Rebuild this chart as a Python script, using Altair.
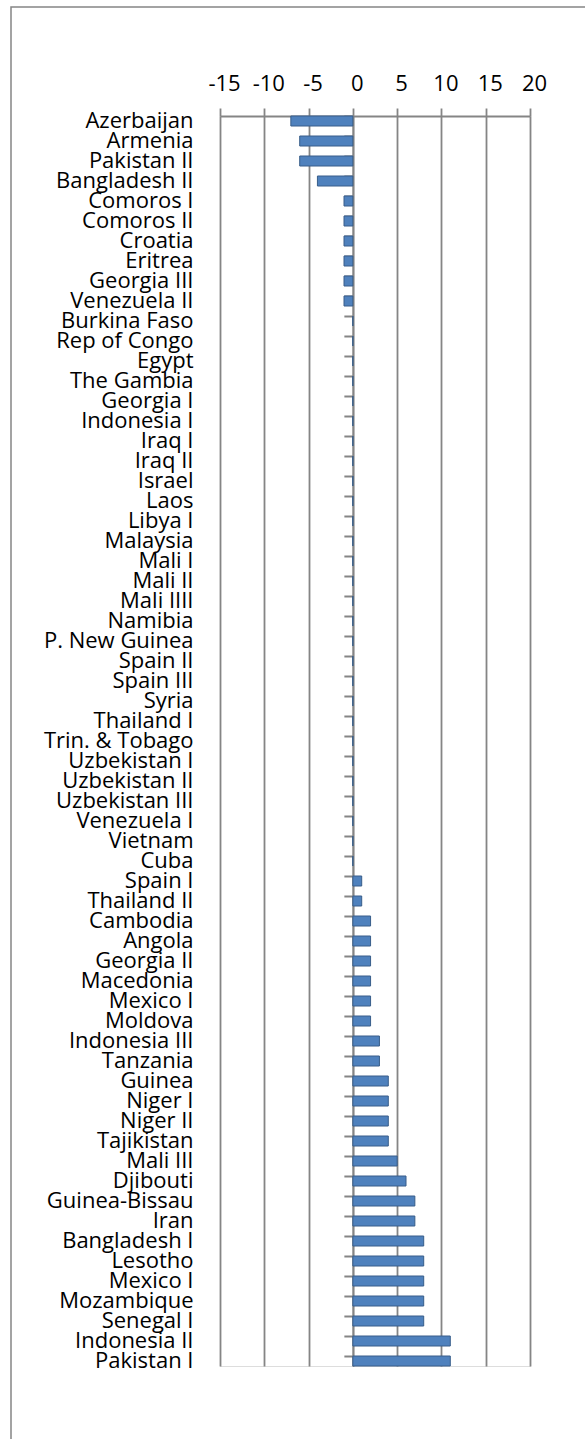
import altair as alt
import pandas as pd

NBSP = "\u00a0"
countries = [
    "Azerbaijan", "Armenia", "Pakistan II", "Bangladesh II", "Comoros I", "Comoros II",
    "Croatia", "Eritrea" + NBSP, "Georgia III", "Venezuela II", "Burkina Faso", "Rep of Congo",
    "Egypt", "The Gambia", "Georgia I", "Indonesia I", "Iraq I", "Iraq II", "Israel" + NBSP,
    "Laos", "Libya I", "Malaysia", "Mali I", "Mali II", "Mali IIII", "Namibia",
    "P. New Guinea", "Spain II", "Spain III", "Syria" + NBSP, "Thailand I", "Trin. & Tobago",
    "Uzbekistan I", "Uzbekistan II", "Uzbekistan III", "Venezuela I", "Vietnam", "Cuba",
    "Spain I", "Thailand II", "Cambodia", "Angola", "Georgia II", "Macedonia", "Mexico I",
    "Moldova", "Indonesia III", "Tanzania", "Guinea", "Niger I", "Niger II",
    "Tajikistan" + NBSP, "Mali III", "Djibouti" + NBSP, "Guinea-Bissau", "Iran",
    "Bangladesh I", "Lesotho", "Mexico I", "Mozambique", "Senegal I", "Indonesia II",
    "Pakistan I",
]
values = [
    -7, -6, -6, -4, -1, -1,
    -1, -1, -1, -1, 0, 0,
    0, 0, 0, 0, 0, 0, 0,
    0, 0, 0, 0, 0, 0, 0,
    0, 0, 0, 0, 0, 0,
    0, 0, 0, 0, 0, 0,
    1, 1, 2, 2, 2, 2, 2,
    2, 3, 3, 4, 4, 4,
    4, 5, 6, 7, 7,
    8, 8, 8, 8, 8, 11,
    11,
]
x_ticks = [-15, -10, -5, 0, 5, 10, 15, 20]

keys = [f"{c}#{i}" for i, c in enumerate(countries)]
df = pd.DataFrame({"key": keys, "country": countries, "value": values})

FONT = "Open Sans"
GRAY = "#858585"
PLOT_W = 310
PLOT_H = 1250

x_enc = alt.X(
    "value:Q",
    scale=alt.Scale(domain=[-15, 20], nice=False, zero=False),
    axis=alt.Axis(
        orient="top", values=x_ticks, title=None, grid=True, gridColor=GRAY,
        gridWidth=1.8, domainColor=GRAY, domainWidth=1.8, tickColor=GRAY,
        tickWidth=1.8, tickSize=8, labelFont=FONT, labelFontSize=22,
        labelColor="#000000", labelPadding=18, labelBaseline="alphabetic",
        labelOffset=4, labelOverlap=False, labelFlush=False,
        labelExpr="toString(datum.value)",
    ),
)
y_scale = alt.Scale(paddingInner=0.5, paddingOuter=0)

base = alt.Chart(df)

bars = base.mark_bar(
    color="#4F81BD", stroke="#385D8A", strokeWidth=1
).encode(
    x=x_enc,
    y=alt.Y(
        "key:N", sort=None, scale=y_scale,
        axis=alt.Axis(
            orient="left", title=None, ticks=False, domain=False, grid=False,
            labelFont=FONT, labelFontSize=22, labelColor="#000000",
            labelPadding=27, labelBaseline="middle", labelLimit=300,
            labelExpr="split(datum.label, '#')[0]", labelOverlap=False,
        ),
    ),
)

zero_axis = base.mark_bar(opacity=0).encode(
    x=x_enc,
    y=alt.Y(
        "key:N", sort=None, scale=y_scale,
        axis=alt.Axis(
            orient="left", title=None, labels=False, ticks=True, tickSize=9,
            tickColor=GRAY, tickWidth=2, bandPosition=0, domain=True,
            domainColor=GRAY, domainWidth=1.8, grid=False,
            offset=-(15 / 35 * PLOT_W),
        ),
    ),
)

frame = alt.Chart(pd.DataFrame({"f": [0]})).mark_rect(
    filled=False, stroke=GRAY, strokeWidth=1.5
).encode(
    x=alt.value(-209), x2=alt.value(800), y=alt.value(-109), y2=alt.value(1600)
)

chart = alt.layer(frame, bars, zero_axis).resolve_axis(y="independent").properties(
    width=PLOT_W,
    height=PLOT_H,
    autosize=alt.AutoSizeParams(type="none"),
    padding={"left": 220, "top": 116, "right": 55, "bottom": 73},
).configure_view(stroke=None).configure(background="white")

chart.save("out.html", embed_options={"renderer": "svg", "actions": False})
